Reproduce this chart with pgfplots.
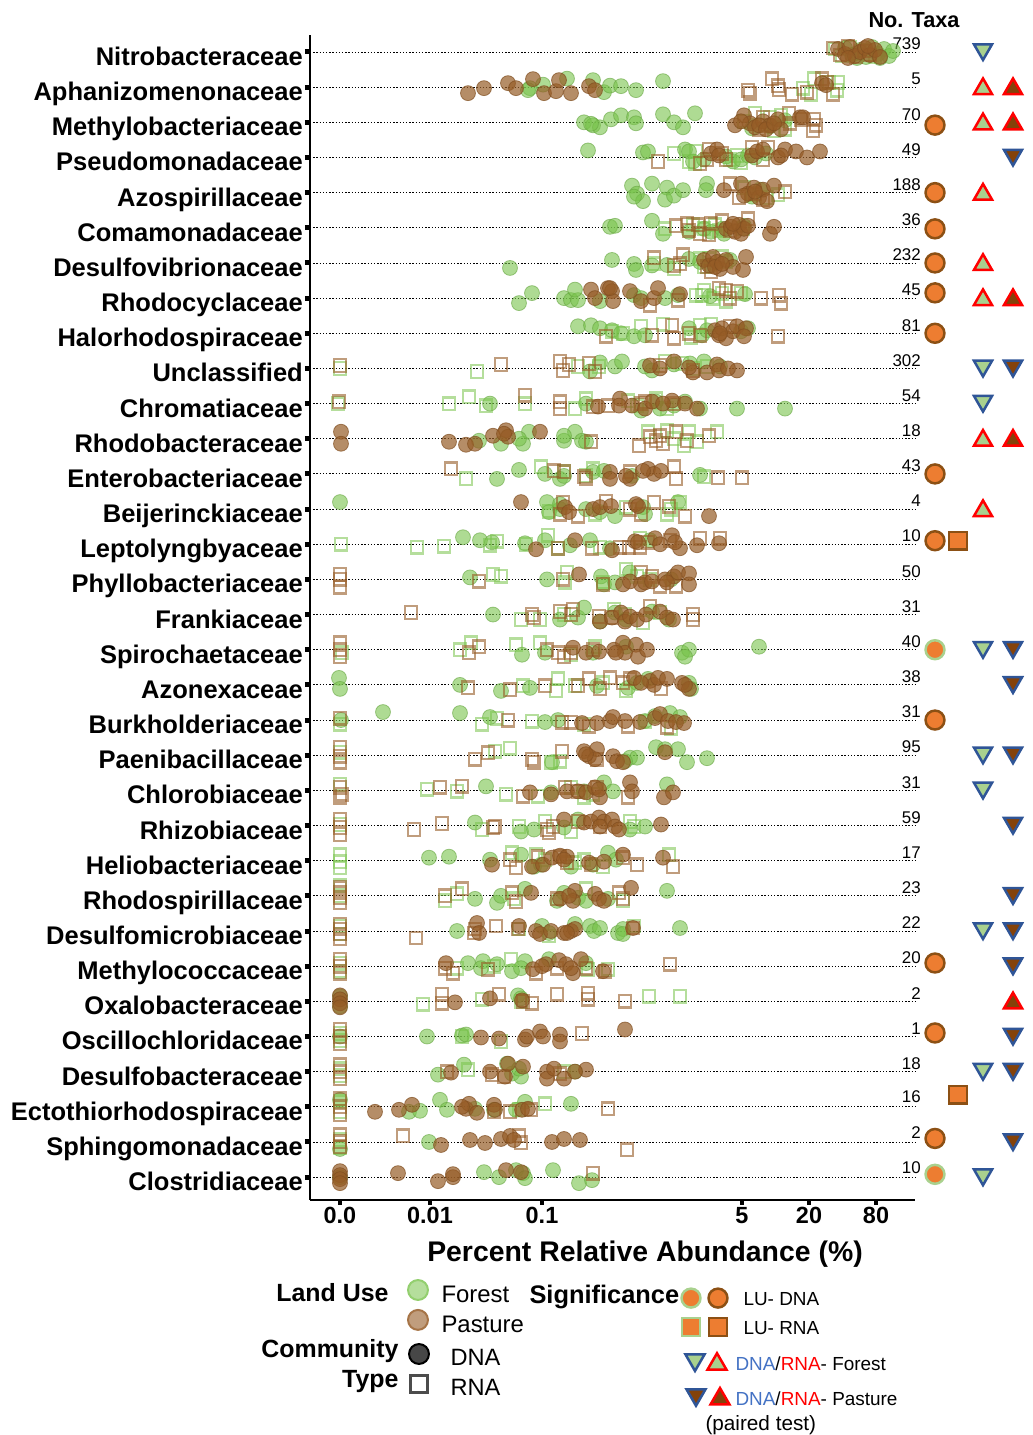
\documentclass[border=0pt]{standalone}
\usepackage{pgfplots}
\pgfplotsset{compat=1.18}
\usepackage{pgfplotstable}
\usepackage{fontspec}
\setmainfont{Liberation Sans}
\newcommand{\fs}[1]{\fontsize{#1}{#1}\selectfont}
\definecolor{fgreen}{RGB}{120,195,75}
\definecolor{pbrown}{RGB}{150,92,38}
\definecolor{sigorange}{RGB}{237,125,49}
\definecolor{sigbrown}{RGB}{140,80,20}
\definecolor{triblue}{RGB}{47,85,151}
\definecolor{trigreen}{RGB}{169,209,142}
\definecolor{tribrown}{RGB}{132,66,10}
\definecolor{legblue}{RGB}{68,114,196}

% forest DNA (x in plot units, r = row from top, d = vertical jitter in px)
\pgfplotstableread[row sep=\\]{
x r d\\
845 1 -4\\ 852 1 3\\ 860 1 -2\\ 866 1 5\\ 872 1 -5\\ 878 1 2\\ 884 1 -3\\ 889 1 4\\ 893 1 -1\\ 857 1 6\\ 880 1 6\\
530 2 1\\ 543 2 -2.5\\ 567 2 -8.5\\ 593 2 -7\\ 604 2 5\\ 610 2 -1.5\\ 621 2 -1\\ 636 2 3\\ 663 2 -6\\ 528 2 3\\
584 3 0\\ 593 3 3\\ 600 3 5\\ 611 3 -3\\ 621 3 -7\\ 634 3 -5\\ 636 3 1\\ 663 3 -8\\ 674 3 0\\ 683 3 5\\ 695 3 -9\\ 591 3 1.5\\ 752 3 6\\ 770 3 4\\ 785 3 -2\\
588 4 -7\\ 643 4 -5\\ 648 4 -6\\ 685 4 -8\\ 689 4 -6\\ 693 4 4\\ 704 4 2\\ 726 4 -1\\ 733 4 4\\ 741 4 2\\ 748 4 -2\\ 755 4 0\\ 766 4 -4\\
632 5 -7\\ 637 5 1\\ 643 5 8.5\\ 652 5 -9\\ 667 5 -5\\ 665 5 7\\ 674 5 3\\ 683 5 -2.5\\ 707 5 -9\\ 706 5 -2.5\\ 634 5 4\\ 752 5 4\\ 760 5 -3\\
610 6 -1\\ 615 6 -2\\ 652 6 -7\\ 663 6 6\\ 689 6 4\\ 704 6 1\\ 722 6 1\\ 744 6 -2\\ 724 6 6\\ 711 6 4\\
510 7 5\\ 612 7 -3\\ 634 7 1\\ 636 7 7\\ 652 7 2.5\\ 667 7 2\\ 689 7 -4\\ 700 7 -1\\ 711 7 2.5\\ 730 7 -3\\
519 8 5\\ 532 8 -5\\ 564 8 0\\ 571 8 2\\ 578 8 2\\ 600 8 3\\ 634 8 -3\\ 641 8 0\\ 678 8 -3\\ 575 8 -8.5\\ 665 8 0\\ 710 8 -2\\ 745 8 -4\\
578 9 -7\\ 591 9 -8\\ 600 9 -5\\ 612 9 -3\\ 621 9 0\\ 634 9 3\\ 645 9 2\\ 689 9 -5\\ 702 9 2\\ 707 9 -3\\ 741 9 -2\\ 748 9 -5\\
615 10 -2\\ 622 10 -7\\ 645 10 -2\\ 652 10 2\\ 704 10 -7\\ 674 10 -4\\ 690 10 -5\\ 720 10 -2\\ 590 10 3\\ 600 10 -6\\
490 11 0\\ 586 11 0\\ 641 11 7\\ 656 11 -2\\ 660 11 5\\ 685 11 -2\\ 700 11 5\\ 737 11 5\\ 785 11 5\\ 674 11 2\\
479 12 2\\ 501 12 5\\ 523 12 5\\ 529 12 -7\\ 519 12 0\\ 564 12 2\\ 575 12 -7\\ 582 12 2\\ 586 12 3\\ 564 12 -3\\
497 13 5\\ 519 13 -4\\ 545 13 0\\ 560 13 5\\ 593 13 -2\\ 604 13 -3\\ 632 13 2\\ 700 13 1\\ 564 13 2\\
340 14 -7\\ 547 14 -7\\ 549 14 3\\ 560 14 0\\ 586 14 0\\ 600 14 3\\ 615 14 7\\ 643 14 -2\\ 678 14 -7\\ 560 14 -5\\ 645 14 5\\
463 15 -7\\ 480 15 -4\\ 492 15 -2\\ 525 15 -1\\ 545 15 -4\\ 570 15 1\\ 590 15 -4\\ 610 15 4\\ 650 15 -4\\
470 16 -2\\ 547 16 0\\ 601 16 -3\\ 604 16 5\\ 615 16 3\\ 630 16 -7\\ 671 16 0\\
493 17 0\\ 560 17 5\\ 578 17 3\\ 584 17 -7\\ 600 17 7\\ 615 17 -2\\ 626 17 5\\ 652 17 -3\\ 669 17 5\\
522 18 5\\ 545 18 3\\ 593 18 3\\ 682 18 3\\ 689 18 0\\ 685 18 7\\ 759 18 -3\\ 626 18 -3\\
339 19 -7\\ 340 19 4\\ 460 19 0\\ 501 19 6\\ 530 19 3\\ 628 19 3\\ 637 19 -2\\ 648 19 -6\\ 689 19 -2\\ 691 19 4\\ 597 19 1\\
341 20 0\\ 383 20 -8\\ 460 20 -7\\ 490 20 -3\\ 558 20 0\\ 645 20 1\\ 655 20 -4\\ 670 20 -7\\ 680 20 -3\\ 545 20 2\\
552 21 7\\ 630 21 2.5\\ 637 21 2.5\\ 656 21 -8\\ 665 21 -6\\ 678 21 -6\\ 687 21 7\\ 707 21 3\\ 625 21 6\\
486 22 -4\\ 551 22 2\\ 604 22 -8\\ 613 22 1\\ 667 22 -6\\ 584 22 1\\
475 23 -3\\ 521 23 6\\ 534 23 4\\ 564 23 2\\ 578 23 -6\\ 630 23 4\\ 645 23 1\\
429 24 -3\\ 449 24 -4\\ 490 24 -1\\ 521 24 -6\\ 534 24 6\\ 541 24 4\\ 571 24 6\\ 593 24 4\\ 608 24 -8\\ 616 24 -1\\
475 25 3\\ 497 25 7\\ 501 25 0\\ 525 25 -7\\ 564 25 -3\\ 578 25 2\\ 586 25 5\\ 608 25 3\\ 667 25 -5\\ 557 25 5\\
457 26 0\\ 542 26 -5\\ 549 26 2\\ 575 26 -7\\ 590 26 -5\\ 594 26 0\\ 600 26 -3\\ 618 26 2\\ 623 26 -2\\ 680 26 -3\\ 623 26 3\\
468 27 -3\\ 483 27 -5\\ 481 27 2\\ 497 27 -2\\ 512 27 5\\ 525 27 -5\\ 549 27 -7\\ 586 27 -3\\ 521 27 2\\
340 28 -5\\ 340 28 5\\ 518 28 -6\\ 521 28 -3\\
427 29 0\\ 462 29 -1\\ 466 29 -2\\ 340 29 0\\
438 30 3\\ 464 30 -7\\ 512 30 2\\ 521 30 5\\ 507 30 -8\\ 575 30 0\\ 519 30 -3\\
409 31 5\\ 420 31 4\\ 440 31 -7\\ 447 31 3\\ 475 31 2\\ 494 31 3\\ 516 31 3\\ 525 31 -5\\ 571 31 -3\\ 340 31 -7\\
340 32 7\\ 429 32 0\\
484 33 -5\\ 499 33 0\\ 516 33 -7\\ 523 33 -4\\ 525 33 1\\ 553 33 -7\\ 579 33 6\\ 592 33 3\\ 340 33 0\\
}\FD

% pasture DNA
\pgfplotstableread[row sep=\\]{
x r d\\
838 1 -3\\ 845 1 2\\ 850 1 -5\\ 855 1 4\\ 860 1 0\\ 865 1 -4\\ 870 1 3\\ 875 1 -2\\ 880 1 5\\ 848 1 6\\ 868 1 -6\\
468 2 6\\ 484 2 1\\ 508 2 -4\\ 516 2 1\\ 533 2 -8\\ 544 2 6\\ 556 2 4\\ 559 2 -7\\ 571 2 6\\ 589 2 -1\\ 595 2 3\\ 822 2 -4\\ 826 2 -2\\
735 3 3\\ 744 3 -7\\ 750 3 1\\ 755 3 5\\ 763 3 -1\\ 770 3 3\\ 778 3 -3\\ 781 3 7\\ 800 3 -5\\ 803 3 -5\\ 741 3 -1\\ 759 3 3\\ 766 3 7\\ 774 3 1\\
711 4 -4\\ 717 4 -8\\ 719 4 -2\\ 752 4 -2\\ 757 4 -6\\ 763 4 -8\\ 778 4 0\\ 785 4 -8\\ 796 4 -6\\ 807 4 0\\ 820 4 -6\\ 781 4 -2\\
724 5 -2.5\\ 741 5 -9\\ 748 5 1\\ 754 5 -5\\ 759 5 5\\ 763 5 -3\\ 767 5 8.5\\ 774 5 -7\\ 744 5 3\\ 755 5 -1\\
726 6 1\\ 731 6 -1\\ 735 6 4\\ 739 6 -3\\ 741 6 6\\ 744 6 1\\ 748 6 -2\\ 770 6 6\\ 774 6 -1\\ 733 6 -4\\
704 7 -3\\ 709 7 2.5\\ 713 7 -6\\ 717 7 -1\\ 720 7 6\\ 726 7 -3\\ 733 7 4\\ 743 7 7\\ 746 7 -6\\ 715 7 4\\ 722 7 1\\
591 8 -8.5\\ 595 8 0\\ 608 8 -10\\ 612 8 -7\\ 613 8 3\\ 630 8 -7\\ 641 8 3\\ 654 8 0\\ 658 8 -10\\ 680 8 -4\\ 610 8 -10\\
715 9 -3\\ 719 9 2\\ 722 9 -5\\ 726 9 5\\ 733 9 -2\\ 737 9 -7\\ 746 9 -5\\ 744 9 3\\ 720 9 0\\
660 10 0\\ 674 10 -7\\ 693 10 4\\ 707 10 4\\ 717 10 -4\\ 719 10 2\\ 737 10 2\\ 689 10 -1\\ 650 10 -3\\ 728 10 0\\
598 11 3\\ 620 11 -5\\ 632 11 2\\ 645 11 5\\ 652 11 -2\\ 672 11 -3\\ 685 11 0\\ 697 11 5\\ 619 11 2\\ 663 11 0\\
341 12 -7\\ 341 12 5\\ 449 12 3\\ 466 12 6\\ 475 12 5\\ 493 12 -3\\ 506 12 -8.5\\ 508 12 -2\\ 540 12 -7\\ 504 12 -5\\
610 13 -2\\ 610 13 5\\ 630 13 5\\ 648 13 -5\\ 654 13 0\\ 661 13 -3\\ 643 13 -3\\ 626 13 2\\
521 14 -7\\ 565 14 -2\\ 569 14 3\\ 593 14 0\\ 600 14 -2\\ 611 14 -3\\ 636 14 -5\\ 638 14 -3\\ 709 14 7\\
536 15 5\\ 575 15 -4\\ 612 15 6\\ 635 15 -3\\ 655 15 -6\\ 672 15 -9\\ 680 15 4\\ 697 15 1\\ 719 15 -1\\ 638 15 -2\\ 660 15 0\\ 675 15 -2\\
579 16 -5\\ 623 16 5\\ 630 16 2\\ 641 16 5\\ 645 16 3\\ 652 16 2\\ 665 16 0\\ 674 16 -3\\ 678 16 -7\\ 689 16 -6\\ 689 16 5\\ 667 16 3\\
600 17 7\\ 612 17 3\\ 621 17 -2\\ 625 17 7\\ 630 17 2\\ 637 17 5\\ 646 17 0\\ 660 17 -3\\ 667 17 3\\ 673 17 5\\
573 18 -2\\ 586 18 3\\ 599 18 2\\ 614 18 0\\ 623 18 -7\\ 625 18 3\\ 636 18 -5\\ 638 18 7\\ 647 18 0\\ 616 18 3\\
634 19 -7\\ 650 19 -4\\ 654 19 0\\ 658 19 -7\\ 667 19 -6\\ 682 19 -2\\ 689 19 4\\ 685 19 0\\ 641 19 -2\\
582 20 3\\ 597 20 3\\ 610 20 1\\ 625 20 1\\ 640 20 2\\ 655 20 -2\\ 660 20 -6\\ 668 20 1\\ 676 20 2\\ 684 20 3\\ 613 20 -3\\
584 21 -4\\ 589 21 1\\ 597 21 -6\\ 595 21 4\\ 613 21 1\\ 617 21 6\\ 623 21 7\\ 665 21 -3\\ 586 21 -1\\
530 22 2\\ 551 22 4\\ 567 22 1\\ 578 22 1\\ 586 22 2\\ 595 22 -3\\ 600 22 7\\ 630 22 -8\\ 632 22 1\\ 664 22 7\\ 673 22 2\\ 599 22 -1\\
564 23 -6\\ 584 23 -3\\ 591 23 -4\\ 599 23 -8\\ 604 23 -4\\ 612 23 -6\\ 615 23 1\\ 619 23 4\\ 661 23 -1\\ 600 23 1\\
492 24 4\\ 532 24 6\\ 543 24 4\\ 552 24 -3\\ 560 24 -5\\ 567 24 -4\\ 589 24 2\\ 604 24 1\\ 623 24 -6\\ 663 24 -3\\ 564 24 -1\\
531 25 -3\\ 560 25 3\\ 575 25 -5\\ 573 25 5\\ 595 25 -2\\ 599 25 3\\ 604 25 5\\ 631 25 -8\\ 569 25 0\\
477 26 -8\\ 479 26 2\\ 519 26 -5\\ 536 26 0\\ 540 26 3\\ 551 26 0\\ 564 26 2\\ 571 26 0\\ 575 26 -2\\ 633 26 -3\\ 567 26 2\\
446 27 -3\\ 533 27 3\\ 546 27 -2\\ 559 27 -6\\ 566 27 -2\\ 573 27 7\\ 581 27 -7\\ 603 27 5\\ 571 27 2\\ 542 27 0\\
340 28 -6\\ 340 28 -2\\ 340 28 2\\ 340 28 6\\ 455 28 1\\ 490 28 -3\\ 522 28 -1\\
481 29 1\\ 499 29 2\\ 525 29 3\\ 527 29 0\\ 540 29 -5\\ 543 29 0\\ 560 29 -2\\ 560 29 5\\ 625 29 -7\\
451 30 1\\ 490 30 0\\ 505 30 5\\ 508 30 -8\\ 523 30 -5\\ 547 30 0\\ 547 30 7\\ 554 30 -3\\ 564 30 7\\ 586 30 -2\\ 575 30 0\\
375 31 5\\ 399 31 3\\ 412 31 -2\\ 466 31 2\\ 469 31 -3\\ 477 31 6\\ 494 31 -2\\ 495 31 3\\ 522 31 3\\ 528 31 2\\ 462 31 0\\
441 32 3\\ 470 32 -2\\ 485 32 1\\ 501 32 -3\\ 510 32 -6\\ 552 32 0\\ 564 32 -3\\ 580 32 -2\\ 514 32 -2\\
340 33 -6\\ 340 33 -2\\ 340 33 2\\ 340 33 6\\ 398 33 -4\\ 438 33 4\\ 453 33 0\\ 453 33 -3\\ 506 33 -7\\ 521 33 -5\\
}\PD

% forest RNA
\pgfplotstableread[row sep=\\]{
x r d\\
835 1 -3\\ 842 1 4\\ 850 1 -5\\ 858 1 2\\ 866 1 -2\\ 875 1 5\\
803 2 1\\ 814 2 -8.5\\ 829 2 -5\\ 837 2 3\\ 811 2 7\\ 838 2 -5\\
755 3 -9\\ 770 3 -5\\ 781 3 -7\\ 785 3 7\\ 774 3 8.5\\ 744 3 -1\\
674 4 -4\\ 689 4 4\\ 695 4 6\\ 737 4 -2\\ 741 4 5\\ 730 4 2\\ 696 4 -6\\
744 5 -5\\ 752 5 2\\ 767 5 5\\ 778 5 2\\
665 6 1\\ 693 6 -3\\ 704 6 1\\ 715 6 -3\\ 719 6 3\\ 743 6 1\\
654 7 1\\ 674 7 6\\ 700 7 -4\\ 709 7 -4\\ 722 7 -6\\ 726 7 -1\\ 704 7 4\\
702 8 -3\\ 713 8 0\\ 722 8 -5\\ 726 8 3\\ 741 8 -5\\ 704 8 -8\\ 696 8 -3\\
641 9 -7\\ 663 9 -9\\ 700 9 -8\\ 711 9 -9\\ 623 9 0\\ 612 9 -2\\ 691 9 4\\
340 10 0\\ 477 10 3\\ 578 10 -2\\ 599 10 -2\\ 665 10 -7\\ 682 10 -5\\ 693 10 0\\ 707 10 -2\\
338 11 0\\ 449 11 0\\ 469 11 -7\\ 486 11 2\\ 525 11 0\\ 586 11 -5\\ 575 11 5\\ 628 11 -3\\ 656 11 -5\\ 667 11 5\\ 637 11 2\\
648 12 -7\\ 667 12 -8\\ 684 12 7\\ 697 12 3\\ 717 12 -7\\ 674 12 0\\ 689 12 -7\\
466 13 5\\ 541 13 -7\\ 564 13 -2\\ 593 13 -5\\ 704 13 3\\ 586 13 2\\
549 14 2\\ 626 14 -2\\ 671 14 0\\ 680 14 -7\\ 667 14 5\\ 595 14 5\\
341 15 0\\ 417 15 3\\ 444 15 2\\ 490 15 1\\ 526 15 0\\ 548 15 -9\\ 558 15 4\\ 600 15 3\\ 640 15 -6\\ 497 15 -3\\
493 16 -5\\ 501 16 -3\\ 565 16 3\\ 567 16 -7\\ 603 16 3\\ 626 16 -10\\ 637 16 -3\\ 650 16 0\\
521 17 5\\ 540 17 5\\ 564 17 0\\ 614 17 -5\\ 625 17 0\\ 643 17 8\\ 660 17 -2\\
460 18 0\\ 471 18 -7\\ 516 18 -5\\ 540 18 -7\\ 595 18 -3\\ 571 18 5\\ 342 18 3\\
558 19 -6\\ 575 19 1\\ 556 19 6\\ 626 19 6\\ 603 19 -2\\ 523 19 1\\
340 20 4\\ 482 20 4\\ 497 20 -2\\ 532 20 1\\ 584 20 4\\ 645 20 1\\ 671 20 8\\
340 21 -3\\ 495 21 -4\\ 510 21 -7\\ 560 21 6\\ 551 21 7\\
340 22 -6\\ 427 22 -1\\ 457 22 1\\ 506 22 4\\ 538 22 6\\ 571 22 -3\\ 584 22 7\\ 593 22 4\\
340 23 -1\\ 482 23 4\\ 519 23 1\\ 545 23 -4\\ 571 23 6\\ 630 23 -4\\ 634 23 1\\
340 24 -6\\ 340 24 1\\ 340 24 7\\ 512 24 -8\\ 536 24 -6\\ 545 24 -1\\ 584 24 -1\\ 603 24 6\\ 669 24 -6\\ 575 24 2\\
340 25 -10\\ 340 25 0\\ 445 25 5\\ 457 25 -2\\ 586 25 -7\\ 623 25 5\\ 514 25 3\\
340 26 -5\\ 340 26 3\\ 519 26 -2\\ 549 26 5\\ 634 26 -5\\
340 27 -3\\ 340 27 5\\ 457 27 2\\ 494 27 0\\ 511 27 -7\\ 588 27 3\\ 608 27 3\\
423 28 3\\ 482 28 -2\\ 649 28 -5\\ 680 28 -5\\ 521 28 0\\
340 29 -3\\ 340 29 4\\ 462 29 0\\ 501 29 5\\
340 30 -3\\ 340 30 4\\ 468 30 -2\\ 564 30 0\\
340 31 -5\\ 340 31 5\\ 545 31 -3\\ 519 31 3\\
340 32 -2\\ 340 32 6\\
}\FR

% pasture RNA
\pgfplotstableread[row sep=\\]{
x r d\\
833 1 -4\\ 840 1 3\\ 848 1 -6\\ 856 1 5\\ 864 1 -1\\ 870 1 3\\
748 2 3\\ 750 2 6\\ 772 2 -8.5\\ 778 2 -1.5\\ 779 2 2.5\\ 792 2 7\\ 807 2 5\\ 822 2 -8.5\\ 827 2 -5\\ 833 2 7\\
763 3 -5\\ 767 3 3\\ 789 3 -9\\ 790 3 1\\ 801 3 -3\\ 814 3 -3\\ 813 3 8.5\\ 816 3 3\\ 759 3 7\\
658 4 4\\ 700 4 6\\ 709 4 -8\\ 722 4 -4\\ 726 4 2\\ 752 4 -10\\ 763 4 2\\ 768 4 -10\\ 707 4 2\\
730 5 -9\\ 739 5 5\\ 763 5 7\\ 785 5 -1\\ 755 5 1\\
676 6 -2\\ 687 6 -4\\ 689 6 2.5\\ 698 6 -3\\ 700 6 6\\ 711 6 -4\\ 709 6 7\\ 722 6 -7\\ 748 6 -9\\ 730 6 3\\
654 7 -5\\ 683 7 -8\\ 674 7 2.5\\ 680 7 1\\ 707 7 4\\ 711 7 9\\
650 8 7\\ 678 8 2\\ 719 8 -10\\ 726 8 -8\\ 730 8 0\\ 737 8 -7\\ 761 8 0\\ 781 8 5\\ 779 8 -3\\
606 9 3\\ 652 9 2\\ 672 9 -8\\ 674 9 5\\ 689 9 0\\ 700 9 2\\ 730 9 -7\\ 778 9 3\\
340 10 -3\\ 501 10 -4\\ 560 10 -7\\ 563 10 2\\ 569 10 -4\\ 589 10 -5\\ 595 10 3\\ 660 10 -3\\ 693 10 2\\
339 11 -2\\ 525 11 -8.5\\ 560 11 -2\\ 560 11 5\\ 593 11 3\\ 608 11 2\\ 645 11 -2\\ 641 11 0\\ 674 11 0\\
591 12 3\\ 639 12 7\\ 650 12 -2\\ 656 12 2\\ 660 12 -3\\ 676 12 -7\\ 687 12 2\\ 709 12 -3\\ 663 12 5\\
451 13 -5\\ 554 13 -3\\ 564 13 -2\\ 584 13 3\\ 586 13 5\\ 630 13 -2\\ 674 13 -7\\ 676 13 5\\ 718 13 4\\ 742 13 4\\
563 14 -7\\ 560 14 5\\ 578 14 7\\ 606 14 -8\\ 630 14 0\\ 654 14 -7\\ 669 14 -3\\ 685 14 7\\ 641 14 5\\
558 15 4\\ 592 15 4\\ 629 15 3\\ 640 15 3\\ 720 15 -6\\ 620 15 3\\ 648 15 -2\\ 670 15 -4\\ 700 15 -6\\
340 16 -5\\ 340 16 0\\ 340 16 8\\ 479 16 2\\ 603 16 5\\ 641 16 -7\\ 652 16 -3\\ 660 16 7\\ 676 16 7\\ 563 16 0\\
411 17 -2\\ 532 17 0\\ 534 17 3\\ 560 17 -3\\ 573 17 -5\\ 599 17 2\\ 612 17 3\\ 650 17 -8.5\\ 693 17 5\\ 693 17 0\\ 571 17 0\\
340 18 -7\\ 340 18 0\\ 340 18 7\\ 469 18 3\\ 479 18 -3\\ 558 18 3\\ 564 18 7\\ 547 18 0\\ 593 18 0\\ 571 18 3\\
468 19 3\\ 510 19 5\\ 545 19 1\\ 578 19 1\\ 589 19 -6\\ 600 19 4\\ 610 19 -7\\ 623 19 -2\\ 630 19 -6\\ 661 19 4\\
340 20 -2\\ 508 20 0\\ 562 20 2\\ 571 20 2\\ 589 20 6\\ 628 20 6\\ 667 20 7\\
340 21 -8\\ 340 21 1\\ 340 21 7\\ 475 21 4\\ 488 21 -2.5\\ 532 21 4\\ 562 21 -4\\ 597 21 4\\ 534 21 7\\
340 22 -3\\ 340 22 7\\ 440 22 -3\\ 462 22 -4\\ 523 22 6\\ 565 22 -3\\ 578 22 1\\ 597 22 -3\\ 628 22 7\\ 342 22 4\\
340 23 -6\\ 340 23 2\\ 340 23 9\\ 414 23 4\\ 442 23 -2\\ 495 23 1\\ 547 23 4\\ 553 23 1\\ 578 23 -4\\ 600 23 1\\ 493 23 2\\ 549 23 7\\
510 24 -1\\ 516 24 7\\ 560 24 -4\\ 567 24 2\\ 591 24 4\\ 623 24 -3\\ 637 24 4\\ 673 24 6\\ 538 24 -4\\
340 25 -8\\ 340 25 -3\\ 340 25 2\\ 340 25 7\\ 445 25 0\\ 462 25 -7\\ 512 25 -3\\ 516 25 6\\ 557 25 3\\ 619 25 -3\\ 623 25 3\\
340 26 -7\\ 340 26 -2\\ 340 26 3\\ 340 26 8\\ 416 26 7\\ 475 26 -2\\ 496 26 -5\\ 518 26 -2\\ 474 26 2\\ 633 26 -3\\
340 27 -7\\ 340 27 0\\ 340 27 7\\ 445 27 2\\ 453 27 7\\ 488 27 3\\ 536 27 7\\ 557 27 2\\ 586 27 2\\ 605 27 5\\ 670 27 -2\\
442 28 -7\\ 442 28 2\\ 499 28 -7\\ 523 28 0\\ 532 28 2\\ 557 28 -7\\ 588 28 -8\\ 588 28 -2\\ 625 28 0\\
340 29 -7\\ 340 29 0\\ 340 29 7\\ 582 29 -3\\
340 30 -7\\ 340 30 0\\ 340 30 7\\ 447 30 0\\ 492 30 3\\ 504 30 5\\ 560 30 2\\
340 31 -8\\ 340 31 0\\ 340 31 8\\ 494 31 5\\ 510 31 5\\ 531 31 3\\ 608 31 2\\
340 32 -7\\ 340 32 0\\ 340 32 5\\ 403 32 -6\\ 521 32 1\\ 519 32 -6\\ 627 32 8\\
593 33 -4\\
}\PR

\begin{document}
\begin{tikzpicture}
\begin{axis}[
  x=1bp, y=35.16bp,
  xmin=310, xmax=915, ymin=-33.65, ymax=-0.52,
  axis x line*=bottom, axis y line*=left,
  axis line style={line width=1.6bp, black, -},
  xtick={340,430,542,742,809,876},
  xticklabels={0.0,0.01,0.1,5,20,80},
  ytick={-33,-32,...,-1},
  yticklabels={Clostridiaceae,Sphingomonadaceae,Ectothiorhodospiraceae,Desulfobacteraceae,Oscillochloridaceae,Oxalobacteraceae,Methylococcaceae,Desulfomicrobiaceae,Rhodospirillaceae,Heliobacteriaceae,Rhizobiaceae,Chlorobiaceae,Paenibacillaceae,Burkholderiaceae,Azonexaceae,Spirochaetaceae,Frankiaceae,Phyllobacteriaceae,Leptolyngbyaceae,Beijerinckiaceae,Enterobacteriaceae,Rhodobacteraceae,Chromatiaceae,Unclassified,Halorhodospiraceae,Rhodocyclaceae,Desulfovibrionaceae,Comamonadaceae,Azospirillaceae,Pseudomonadaceae,Methylobacteriaceae,Aphanizomenonaceae,Nitrobacteraceae},
  tick align=outside,
  major tick length=5bp,
  xtick style={line width=4.5bp, black},
  ytick style={line width=5bp, black},
  minor tick num=0,
  ymajorgrids,
  major grid style={black, line width=0.9bp, dash pattern=on 1.4bp off 1.8bp},
  xticklabel style={font=\fs{23.5}\bfseries, inner ysep=2bp},
  yticklabel style={font=\fs{25.6}\bfseries, inner xsep=2bp, anchor=base east, yshift=-13.5bp},
  clip=false,
]
\addplot[only marks, mark=*, mark size=7.5, mark options={fill=fgreen, draw=fgreen!85!black, line width=0.8bp, opacity=0.6}]
  table[x=x, y expr=-\thisrow{r}-\thisrow{d}/35.16] {\FD};
\addplot[only marks, mark=square, mark size=6.3, mark options={draw=fgreen, fill=none, line width=2.4bp, opacity=0.55}]
  table[x=x, y expr=-\thisrow{r}-\thisrow{d}/35.16] {\FR};
\addplot[only marks, mark=square, mark size=6.3, mark options={draw=pbrown, fill=none, line width=2.4bp, opacity=0.6}]
  table[x=x, y expr=-\thisrow{r}-\thisrow{d}/35.16] {\PR};
\addplot[only marks, mark=*, mark size=7.5, mark options={fill=pbrown, draw=pbrown!85!black, line width=0.8bp, opacity=0.7}]
  table[x=x, y expr=-\thisrow{r}-\thisrow{d}/35.16] {\PD};

% significance: land use DNA (circles), RNA (squares)
\addplot[only marks, mark=*, mark size=9.5, mark options={fill=sigorange, draw=sigbrown, line width=2.5bp}]
  coordinates {(935,-3.08) (935,-5) (935,-6.03) (935,-7) (935,-7.85) (935,-9) (935,-13) (935,-14.9) (935,-20) (935,-26.91) (935,-28.9) (935,-31.9)};
\addplot[only marks, mark=*, mark size=9.5, mark options={fill=sigorange, draw=trigreen, line width=2.5bp}]
  coordinates {(935,-18) (935,-32.92)};
\addplot[only marks, mark=square*, mark size=8.8, mark options={fill=sigorange, draw=sigbrown, line width=2.5bp}]
  coordinates {(958,-14.9) (958,-30.66)};
% DNA/RNA paired tests
\addplot[only marks, mark=triangle*, mark size=10.5, mark options={rotate=180, fill=trigreen, draw=triblue, line width=2.5bp}]
  coordinates {(983,-0.93) (983,-9.93) (983,-10.93) (983,-17.93) (983,-20.93) (983,-21.93) (983,-25.93) (983,-29.93) (983,-32.93)};
\addplot[only marks, mark=triangle*, mark size=10.5, mark options={fill=trigreen, draw=red, line width=2.5bp}]
  coordinates {(983,-2.05) (983,-3.05) (983,-5.05) (983,-7.05) (983,-8.05) (983,-12.05) (983,-14.05)};
\addplot[only marks, mark=triangle*, mark size=10.5, mark options={rotate=180, fill=tribrown, draw=triblue, line width=2.5bp}]
  coordinates {(1013,-3.93) (1013,-9.93) (1013,-17.93) (1013,-18.93) (1013,-20.93) (1013,-22.93) (1013,-24.93) (1013,-25.93) (1013,-26.93) (1013,-28.93) (1013,-29.93) (1013,-31.93)};
\addplot[only marks, mark=triangle*, mark size=10.5, mark options={fill=tribrown, draw=red, line width=2.5bp}]
  coordinates {(1013,-2.05) (1013,-3.05) (1013,-8.05) (1013,-12.05) (1013,-28.05)};

% legend symbols
\addplot[only marks, mark=*, mark size=10, mark options={fill=fgreen!55, draw=fgreen!80, line width=2bp}] coordinates {(418,-36.21)};
\addplot[only marks, mark=*, mark size=10, mark options={fill=pbrown!60, draw=pbrown!85, line width=2bp}] coordinates {(418,-37.06)};
\addplot[only marks, mark=*, mark size=10, mark options={fill=black!72, draw=black, line width=2bp}] coordinates {(419,-38.03)};
\addplot[only marks, mark=square, mark size=8.5, mark options={draw=black!70, line width=3bp}] coordinates {(419,-38.88)};
\addplot[only marks, mark=*, mark size=9.5, mark options={fill=sigorange, draw=trigreen, line width=2.5bp}] coordinates {(691,-36.44)};
\addplot[only marks, mark=*, mark size=9.5, mark options={fill=sigorange, draw=sigbrown, line width=2.5bp}] coordinates {(718,-36.44)};
\addplot[only marks, mark=square*, mark size=9, mark options={fill=sigorange, draw=trigreen, line width=2.5bp}] coordinates {(691,-37.26)};
\addplot[only marks, mark=square*, mark size=9, mark options={fill=sigorange, draw=sigbrown, line width=2.5bp}] coordinates {(718,-37.26)};
\addplot[only marks, mark=triangle*, mark size=11, mark options={rotate=180, fill=trigreen, draw=triblue, line width=2.5bp}] coordinates {(695,-38.2)};
\addplot[only marks, mark=triangle*, mark size=11, mark options={fill=trigreen, draw=red, line width=2.5bp}] coordinates {(717,-38.32)};
\addplot[only marks, mark=triangle*, mark size=11, mark options={rotate=180, fill=tribrown, draw=triblue, line width=2.5bp}] coordinates {(696,-39.19)};
\addplot[only marks, mark=triangle*, mark size=11, mark options={fill=tribrown, draw=red, line width=2.5bp}] coordinates {(720,-39.31)};

% No. Taxa numbers
\begin{scope}[every node/.style={anchor=east, font=\fs{17}, inner sep=0pt}]
\node at (axis cs:921,-0.77) {739};
\node at (axis cs:921,-1.77) {5};
\node at (axis cs:921,-2.77) {70};
\node at (axis cs:921,-3.77) {49};
\node at (axis cs:921,-4.77) {188};
\node at (axis cs:921,-5.77) {36};
\node at (axis cs:921,-6.77) {232};
\node at (axis cs:921,-7.77) {45};
\node at (axis cs:921,-8.77) {81};
\node at (axis cs:921,-9.77) {302};
\node at (axis cs:921,-10.77) {54};
\node at (axis cs:921,-11.77) {18};
\node at (axis cs:921,-12.77) {43};
\node at (axis cs:921,-13.77) {4};
\node at (axis cs:921,-14.77) {10};
\node at (axis cs:921,-15.77) {50};
\node at (axis cs:921,-16.77) {31};
\node at (axis cs:921,-17.77) {40};
\node at (axis cs:921,-18.77) {38};
\node at (axis cs:921,-19.77) {31};
\node at (axis cs:921,-20.77) {95};
\node at (axis cs:921,-21.77) {31};
\node at (axis cs:921,-22.77) {59};
\node at (axis cs:921,-23.77) {17};
\node at (axis cs:921,-24.77) {23};
\node at (axis cs:921,-25.77) {22};
\node at (axis cs:921,-26.77) {20};
\node at (axis cs:921,-27.77) {2};
\node at (axis cs:921,-28.77) {1};
\node at (axis cs:921,-29.77) {18};
\node at (axis cs:921,-30.72) {16};
\node at (axis cs:921,-31.72) {2};
\node at (axis cs:921,-32.72) {10};
\end{scope}
\coordinate (O) at (axis cs:0,0.479);
\end{axis}

\begin{scope}[shift={(O)}, x=1bp, y=-1bp]
\node[font=\fs{21.8}\bfseries] at (914,20) {No. Taxa};
\node[font=\fs{28.5}\bfseries] at (645,1254) {Percent Relative Abundance (\%)};
\node[anchor=east, font=\fs{25}\bfseries] at (392,1293) {Land Use};
\node[anchor=west, font=\fs{24}] at (438,1294) {Forest};
\node[anchor=west, font=\fs{24}] at (438,1324) {Pasture};
\node[anchor=east, font=\fs{25}\bfseries] at (402,1351) {Community};
\node[anchor=east, font=\fs{25}\bfseries] at (402,1382) {Type};
\node[anchor=west, font=\fs{23.7}] at (447,1357) {DNA};
\node[anchor=west, font=\fs{23.7}] at (447,1387) {RNA};
\node[anchor=west, font=\fs{25.5}\bfseries] at (526,1297) {Significance};
\node[anchor=west, font=\fs{19}] at (740,1299) {LU- DNA};
\node[anchor=west, font=\fs{19}] at (740,1328) {LU- RNA};
\node[anchor=west, font=\fs{19}] at (732,1364) {{\color{legblue}DNA}/{\color{red}RNA}- Forest};
\node[anchor=west, font=\fs{19}] at (732,1399) {{\color{legblue}DNA}/{\color{red}RNA}- Pasture};
\node[anchor=west, font=\fs{20.8}] at (702,1425) {(paired test)};
\pgfresetboundingbox
\path (0,0) rectangle (1032,1435);
\end{scope}
\end{tikzpicture}
\end{document}
